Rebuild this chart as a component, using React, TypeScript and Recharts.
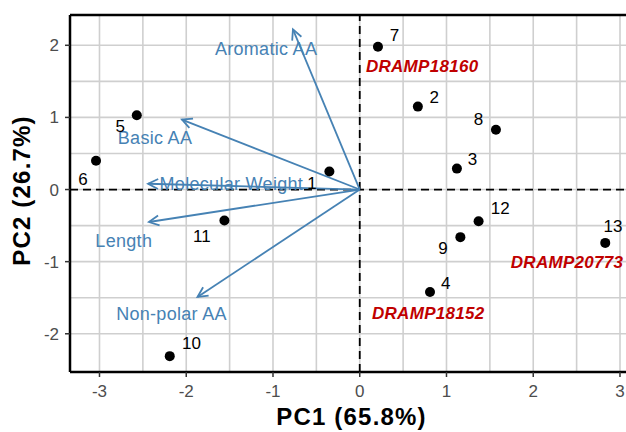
// PCA biplot: peptide scores (PC1 vs PC2) with variable loading arrows.

import {
  ComposedChart,
  Scatter,
  Line,
  XAxis,
  YAxis,
  CartesianGrid,
  ReferenceLine,
} from "recharts";

// sample scores
const sampleIds = ["1", "2", "3", "4", "5", "6", "7", "8", "9", "10", "11", "12", "13"];
const pc1 = [-0.35, 0.67, 1.12, 0.81, -2.57, -3.04, 0.21, 1.57, 1.16, -2.19, -1.56, 1.37, 2.83];
const pc2 = [0.25, 1.15, 0.29, -1.42, 1.03, 0.4, 1.98, 0.83, -0.66, -2.31, -0.43, -0.44, -0.74];
// where the repelled number labels ended up
const idLabelPc1 = [-0.55, 0.86, 1.3, 0.99, -2.76, -3.19, 0.4, 1.37, 0.96, -1.94, -1.82, 1.62, 2.92];
const idLabelPc2 = [0.09, 1.27, 0.41, -1.3, 0.88, 0.14, 2.13, 0.97, -0.82, -2.13, -0.65, -0.26, -0.51];

// highlighted peptides
const dramps = ["DRAMP18160", "DRAMP18152", "DRAMP20773"];
const drampPc1 = [0.72, 0.79, 2.39];
const drampPc2 = [1.71, -1.72, -1.015];

// loadings (arrow tips) and their labels
const variables = ["Aromatic AA", "Basic AA", "Molecular Weight", "Length", "Non-polar AA"];
const loadPc1 = [-0.77, -2.05, -2.44, -2.43, -1.87];
const loadPc2 = [2.22, 0.97, 0.08, -0.45, -1.49];
const varLabelPc1 = [-1.08, -2.36, -1.48, -2.72, -2.17];
const varLabelPc2 = [1.95, 0.71, 0.07, -0.72, -1.73];

const xTicks = [-3, -2, -1, 0, 1, 2, 3];
const yTicks = [-2, -1, 0, 1, 2];
const xGrid = [-3, -2.5, -2, -1.5, -1, -0.5, 0, 0.5, 1, 1.5, 2, 2.5, 3];
const yGrid = [-2, -1.5, -1, -0.5, 0, 0.5, 1, 1.5, 2];

const X_DOMAIN: [number, number] = [-3.34, 3.15];
const Y_DOMAIN: [number, number] = [-2.53, 2.42];

const FONT = "'Liberation Sans', Arial, sans-serif";
const ARROW = "#4682b4";

const points = sampleIds.map((id, i) => ({ id, x: pc1[i], y: pc2[i] }));
const idLabels = sampleIds.map((id, i) => ({ id, x: idLabelPc1[i], y: idLabelPc2[i] }));
const drampLabels = dramps.map((id, i) => ({ id, x: drampPc1[i], y: drampPc2[i] }));
const arrows = variables.map((name, i) => [
  { x: 0, y: 0 },
  { x: loadPc1[i], y: loadPc2[i] },
]);
const varLabels = variables.map((id, i) => ({ id, x: varLabelPc1[i], y: varLabelPc2[i] }));

const textShape = (style: Record<string, any>) => (p: any) => (
  <text
    x={p.cx}
    y={p.cy}
    textAnchor="middle"
    dominantBaseline="central"
    style={{ fontFamily: FONT, ...style }}
  >
    {p.payload.id}
  </text>
);

const tickStyle = { fontSize: 17, fill: "#4d4d4d", fontFamily: FONT };

export default function App() {
  return (
    <div
      style={{
        position: "absolute",
        left: 0,
        top: 0,
        width: 626,
        height: 432,
        overflow: "hidden",
        background: "#fff",
      }}
    >
      <ComposedChart
        width={640}
        height={432}
        margin={{ top: 15, right: 7, bottom: 0, left: 0 }}
        style={{ fontFamily: FONT }}
      >
        <defs>
          <marker
            id="arrowHead"
            viewBox="-1 -7 13 14"
            refX={10}
            refY={0}
            markerWidth={13}
            markerHeight={14}
            markerUnits="userSpaceOnUse"
            orient="auto"
          >
            <path d="M0,-5 L10,0 L0,5" fill="none" stroke={ARROW} strokeWidth={1.8} />
          </marker>
        </defs>
        <CartesianGrid
          stroke="#cfcfcf"
          strokeWidth={1.6}
          verticalValues={xGrid}
          horizontalValues={yGrid}
        />
        <XAxis
          type="number"
          dataKey="x"
          domain={X_DOMAIN}
          ticks={xTicks}
          allowDataOverflow
          height={60}
          tickSize={5}
          tickMargin={8}
          tick={tickStyle}
          tickLine={{ stroke: "#333", strokeWidth: 1.5 }}
          axisLine={{ stroke: "#000", strokeWidth: 2.5 }}
          label={{
            content: ({ viewBox }: any) => (
              <text
                x={viewBox.x + viewBox.width / 2}
                y={viewBox.y + 53}
                textAnchor="middle"
                style={{ fontFamily: FONT, fontSize: 24, fontWeight: 700, letterSpacing: 1.2 }}
                fill="#000"
              >
                PC1 (65.8%)
              </text>
            ),
          }}
        />
        <YAxis
          type="number"
          dataKey="y"
          domain={Y_DOMAIN}
          ticks={yTicks}
          allowDataOverflow
          width={70}
          tickSize={5}
          tickMargin={6}
          tick={tickStyle}
          tickLine={{ stroke: "#333", strokeWidth: 1.5 }}
          axisLine={{ stroke: "#000", strokeWidth: 2.5 }}
          label={{
            content: ({ viewBox }: any) => {
              const cx = viewBox.x + 30;
              const cy = viewBox.y + viewBox.height / 2 - 3;
              return (
                <text
                  x={cx}
                  y={cy}
                  transform={`rotate(-90, ${cx}, ${cy})`}
                  textAnchor="middle"
                  style={{ fontFamily: FONT, fontSize: 24, fontWeight: 700, letterSpacing: 1.2 }}
                  fill="#000"
                >
                  PC2 (26.7%)
                </text>
              );
            },
          }}
        />
        <ReferenceLine y={Y_DOMAIN[1]} stroke="#000" strokeWidth={2.5} />
        <ReferenceLine x={0} stroke="#000" strokeWidth={1.8} strokeDasharray="8 5" />
        <ReferenceLine y={0} stroke="#000" strokeWidth={1.8} strokeDasharray="8 5" />

        {arrows.map((seg, i) => (
          <Line
            key={variables[i]}
            data={seg}
            dataKey="y"
            stroke={ARROW}
            strokeWidth={1.8}
            dot={false}
            activeDot={false}
            markerEnd="url(#arrowHead)"
            isAnimationActive={false}
          />
        ))}
        <Scatter
          data={varLabels}
          isAnimationActive={false}
          shape={textShape({ fontSize: 18, fill: ARROW, letterSpacing: 0.3 })}
        />
        <Scatter
          data={points}
          isAnimationActive={false}
          shape={(p: any) => <circle cx={p.cx} cy={p.cy} r={5} fill="#000" />}
        />
        <Scatter
          data={idLabels}
          isAnimationActive={false}
          shape={textShape({ fontSize: 17, fill: "#000" })}
        />
        <Scatter
          data={drampLabels}
          isAnimationActive={false}
          shape={textShape({
            fontSize: 17,
            fill: "#c00000",
            fontWeight: 700,
            fontStyle: "italic",
            letterSpacing: 0.3,
          })}
        />
      </ComposedChart>
    </div>
  );
}
